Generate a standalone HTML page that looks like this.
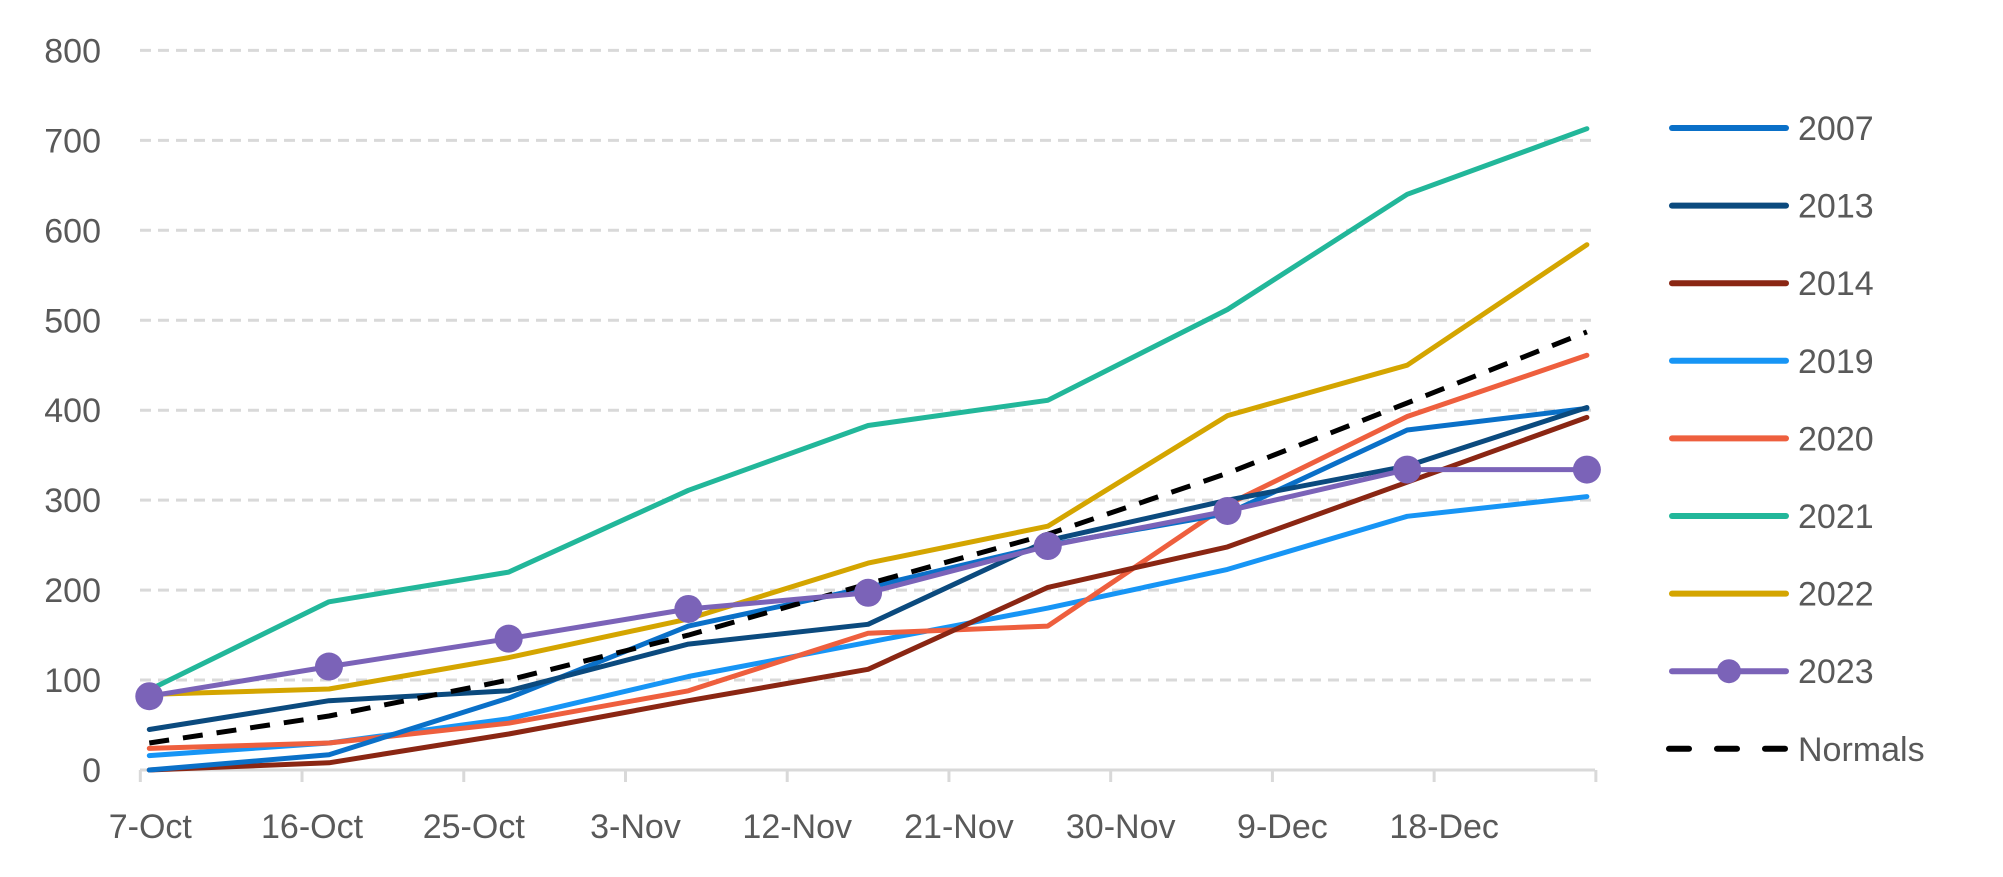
<!DOCTYPE html>
<html><head><meta charset="utf-8"><style>
html,body{margin:0;padding:0;background:#fff;}
svg{display:block;font-family:"Liberation Sans",sans-serif;}
</style></head><body>
<svg id="chart" width="2003" height="877" viewBox="0 0 2003 877" xmlns="http://www.w3.org/2000/svg">
<g id="grid"></g>
<g id="axes"></g>
<g id="series"></g>
<g id="legend"></g>
</svg>
<script>
const yTicks = [0,100,200,300,400,500,600,700,800];
const xTickLabels = ["7-Oct","16-Oct","25-Oct","3-Nov","12-Nov","21-Nov","30-Nov","9-Dec","18-Dec"];
const pointDays = [0.5,10.5,20.5,30.5,40.5,50.5,60.5,70.5,80.5];
const seriesNames = ["2007","2013","2014","2019","2020","2021","2022","2023","Normals"];
const s2007 = [0,17,80,160,203,250,285,378,402];
const s2013 = [45,77,88,140,162,255,300,338,403];
const s2014 = [0,8,40,77,112,203,248,320,392];
const s2019 = [16,30,57,104,142,180,223,282,304];
const s2020 = [24,30,52,88,152,160,295,393,461];
const s2021 = [89,187,220,311,383,411,512,640,713];
const s2022 = [84,90,125,168,230,271,394,450,584];
const s2023 = [82,115,146,179,197,249,288,334,334];
const sNormals = [30,60,100,150,207,262,330,408,487];

const NS="http://www.w3.org/2000/svg";
const X0=140.3, DAY=17.97, Y0=770, YK=0.8995;
function xs(d){return X0+d*DAY;}
function ys(v){return Y0-v*YK;}
function mk(tag,attrs,parent){const e=document.createElementNS(NS,tag);for(const k in attrs)e.setAttribute(k,attrs[k]);parent.appendChild(e);return e;}
const grid=document.getElementById('grid'),axes=document.getElementById('axes'),ser=document.getElementById('series'),leg=document.getElementById('legend');

yTicks.forEach(v=>{
  if(v>0){const l=mk('line',{x1:140,x2:1595,y1:ys(v),y2:ys(v),stroke:'#d9d9d9','stroke-width':3,'stroke-dasharray':'11 7'},grid);
  
  }
  const t=mk('text',{x:101,y:ys(v)+12,'text-anchor':'end','font-size':34,fill:'#595959'},axes);
  t.textContent=v;
  
  
});
const ax=mk('line',{x1:140,x2:1595,y1:Y0,y2:Y0,stroke:'#d9d9d9','stroke-width':3},axes);


for(let i=0;i<=9;i++){
  const tk=mk('line',{x1:xs(i*9),x2:xs(i*9),y1:Y0,y2:782,stroke:'#d9d9d9','stroke-width':3},axes);
  
  
}
xTickLabels.forEach((lab,i)=>{
  const t=mk('text',{x:xs(i*9)+10,y:838,'text-anchor':'middle','font-size':34,fill:'#595959'},axes);
  t.textContent=lab;
  
  
});

const seriesData=[s2007,s2013,s2014,s2019,s2020,s2021,s2022,s2023,sNormals];
const colors=['#0A70C8','#0B4A7E','#8A2613','#1795F5','#EE5F3E','#22B79A','#D4A500','#7B63B8','#000'];
const order=[3,4,2,0,1,6,5,8,7];
order.forEach(i=>{
  const d=seriesData[i];
  const pts=d.map((v,j)=>xs(pointDays[j]).toFixed(1)+','+ys(v).toFixed(1)).join(' ');
  const a={points:pts,fill:'none',stroke:colors[i],'stroke-width':5,'stroke-linejoin':'round','stroke-linecap':'round'};
  if(seriesNames[i]==='Normals'){a['stroke-dasharray']='20 14';a['stroke-linecap']='butt';}
  const pl=mk('polyline',a,ser);
  
  
  if(seriesNames[i]==='2023'){
    d.forEach((v,j)=>{
      const c=mk('circle',{cx:xs(pointDays[j]),cy:ys(v),r:14,fill:colors[i]},ser);
      
      
    });
  }
});

seriesNames.forEach((n,i)=>{
  const y=128+i*77.6;
  const g=mk('g',{},leg);
  
  
  const a={x1:1672,x2:1786,y1:y,y2:y,stroke:colors[i],'stroke-width':6,'stroke-linecap':'round'};
  if(n==='Normals'){a['stroke-dasharray']='20 28';a.x1=1669;}
  mk('line',a,g);
  if(n==='2023') mk('circle',{cx:1729,cy:y,r:12,fill:colors[i]},g);
  const t=mk('text',{x:1798,y:y+12,'font-size':34,fill:'#595959'},g);
  t.textContent=n;
});
</script>
</body></html>
